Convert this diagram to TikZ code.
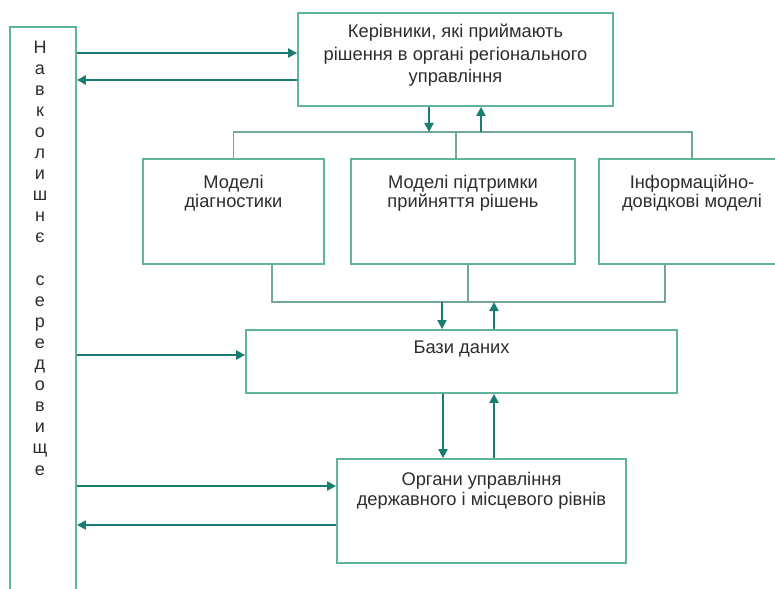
\documentclass[tikz,border=0pt]{standalone}
\usepackage{fontspec}
\setmainfont{Liberation Sans}
\usetikzlibrary{arrows.meta,calc}
\definecolor{boxcol}{RGB}{95,180,155}
\definecolor{arrcol}{RGB}{25,125,115}
\definecolor{buscol}{RGB}{115,165,155}
\definecolor{txtcol}{RGB}{45,45,45}
\begin{document}
\begin{tikzpicture}[x=1pt,y=-1pt,
 blk/.style={draw=boxcol, line width=1.8pt, inner sep=0pt},
 lbl/.style={text=txtcol, align=center, inner sep=0pt, font=\fontsize{18.3}{22.5}\selectfont, anchor=base},
 arr/.style={draw=arrcol, line width=2pt, -{Triangle[length=9pt,width=9pt]}},
 bus/.style={draw=buscol, line width=1.5pt}]
\useasboundingbox[fill=white] (0,0) rectangle (775,588);

% boxes
\node[blk, minimum width=66, minimum height=593] (env) at (43,323.5) {};
\node[blk, minimum width=315, minimum height=93] (lead) at (455.5,59.5) {};
\node[blk, minimum width=181, minimum height=105] (m1) at (233.5,211.5) {};
\node[blk, minimum width=224, minimum height=105] (m2) at (463,211.5) {};
\node[blk, minimum width=186, minimum height=105] (m3) at (692,211.5) {};
\node[blk, minimum width=431, minimum height=63] (db) at (461.5,361.5) {};
\node[blk, minimum width=289, minimum height=104] (org) at (481.5,511) {};

% texts (anchor=base is the baseline of the last line)
\node[lbl] (leadT) at (455.5,83) {Керівники, які приймають\\рішення в органі регіонального\\управління};
\node[lbl, font=\fontsize{18.3}{19}\selectfont] (m1T) at (233.5,207) {Моделі\\діагностики};
\node[lbl, font=\fontsize{18.3}{19}\selectfont] (m2T) at (463,207) {Моделі підтримки\\прийняття рішень};
\node[lbl, font=\fontsize{18.3}{19}\selectfont] (m3T) at (692,207) {Інформаційно-\\довідкові моделі};
\node[lbl] (dbT) at (461.5,353) {Бази даних};
\node[lbl, font=\fontsize{18.3}{20}\selectfont] (orgT) at (481.5,505) {Органи управління\\державного і місцевого рівнів};
\node[lbl, font=\fontsize{18}{21.1}\selectfont] (envT) at (40,475) {Н\\а\\в\\к\\о\\л\\и\\ш\\н\\є\\[21.1pt]с\\е\\р\\е\\д\\о\\в\\и\\щ\\е};

% helper coordinates
\coordinate (y1) at (0,53);
\coordinate (y2) at (0,80);
\coordinate (y3) at (0,355);
\coordinate (y4) at (0,486);
\coordinate (y5) at (0,525);
\coordinate (bU) at (0,132);
\coordinate (bL) at (0,302);
\coordinate (xa) at (429,0);
\coordinate (xb) at (481,0);
\coordinate (xd2) at (456,0);
\coordinate (xl1) at (272,0);
\coordinate (xl2) at (468,0);
\coordinate (xl3) at (665,0);
\coordinate (xc) at (442,0);
\coordinate (xd) at (494,0);
\coordinate (xe) at (443,0);

% buses
\draw[bus] (m1.north) -- (m1.north |- bU) -- (m3.north |- bU) -- (m3.north);
\draw[bus] (xd2 |- bU) -- (xd2 |- m2.north);
\draw[bus] (xl1 |- m1.south) -- (xl1 |- bL) -- (xl3 |- bL) -- (xl3 |- m3.south);
\draw[bus] (xl2 |- m2.south) -- (xl2 |- bL);

% arrows
\draw[arr] (env.east |- y1) -- (lead.west |- y1);
\draw[arr] (lead.west |- y2) -- (env.east |- y2);
\draw[arr] (lead.south -| xa) -- (bU -| xa);
\draw[arr] (bU -| xb) -- (lead.south -| xb);
\draw[arr] (bL -| xc) -- (db.north -| xc);
\draw[arr] (db.north -| xd) -- (bL -| xd);
\draw[arr] (env.east |- y3) -- (db.west |- y3);
\draw[arr] (db.south -| xe) -- (org.north -| xe);
\draw[arr] (org.north -| xd) -- (db.south -| xd);
\draw[arr] (env.east |- y4) -- (org.west |- y4);
\draw[arr] (org.west |- y5) -- (env.east |- y5);
\end{tikzpicture}
\end{document}
